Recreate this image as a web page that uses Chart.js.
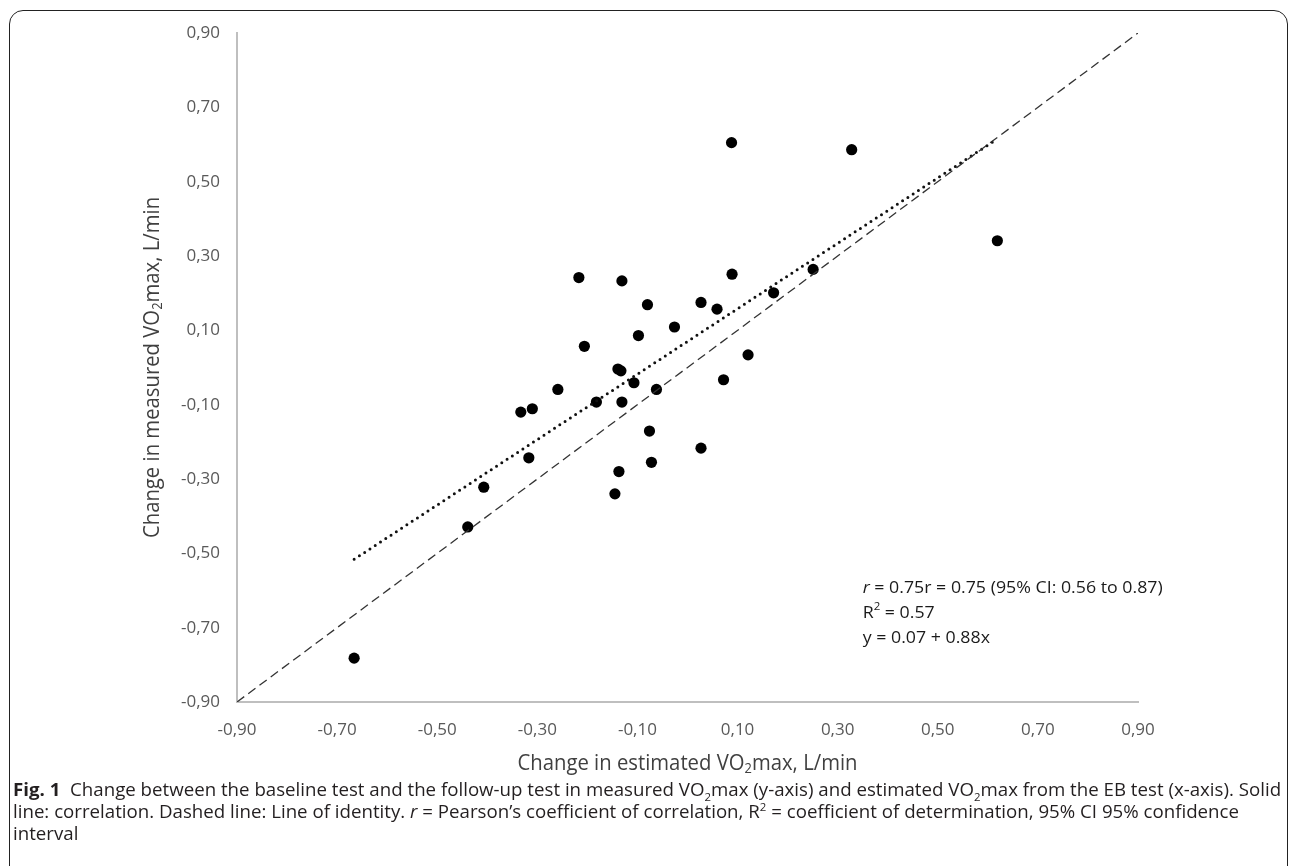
<!DOCTYPE html>
<html>
<head>
<meta charset="utf-8">
<script src="https://cdn.jsdelivr.net/npm/chart.js@4.4.1/dist/chart.umd.min.js"></script>
<style>
  html, body { margin: 0; padding: 0; background: #fff; overflow: hidden; }
  body { width: 1290px; height: 866px; position: relative; }
  #moldura { position: absolute; left: 9px; top: 10px; width: 1279px; height: 920px; border: 1.5px solid #222; border-radius: 14px; box-sizing: border-box; }
  #grafico { position: absolute; left: 0; top: 0; }
  .legenda { position: absolute; left: 13px; font-family: 'Open Sans', sans-serif; font-size: 18px; line-height: 22px; color: #231f20; white-space: nowrap; transform-origin: 0 50%; }
  .legenda sub, .legenda sup { font-size: 11px; line-height: 0; }
</style>
</head>
<body>
<div id="moldura"></div>
<canvas id="grafico" width="1290" height="790"></canvas>
<div class="legenda" id="leg1" style="top:778px"><b>Fig. 1</b>&nbsp; Change between the baseline test and the follow-up test in measured VO<sub>2</sub>max (y-axis) and estimated VO<sub>2</sub>max from the EB test (x-axis). Solid</div>
<div class="legenda" id="leg2" style="top:800px">line: correlation. Dashed line: Line of identity. <i>r</i> = Pearson’s coefficient of correlation, R<sup>2</sup> = coefficient of determination, 95% CI 95% confidence</div>
<div class="legenda" id="leg3" style="top:822px">interval</div>
<script>
// variação estimada (x) e medida (y) do VO2max, L/min
const estChange = [0.088, 0.328, 0.619, -0.217, -0.131, -0.080, 0.027, 0.059, 0.089, 0.172, 0.251, -0.026,
  -0.098, -0.206, 0.121, -0.139, -0.133, -0.107, -0.062, -0.259, 0.072, -0.182, -0.131, -0.333, -0.310,
  -0.076, 0.027, -0.317, -0.072, -0.137, -0.145, -0.407, -0.439, -0.666];
const measChange = [0.605, 0.586, 0.341, 0.242, 0.233, 0.169, 0.175, 0.157, 0.251, 0.201, 0.264, 0.109,
  0.086, 0.057, 0.034, -0.004, -0.009, -0.041, -0.059, -0.059, -0.033, -0.093, -0.093, -0.120, -0.111,
  -0.171, -0.217, -0.243, -0.255, -0.280, -0.340, -0.322, -0.429, -0.782];

// linha de identidade e reta de correlação (y = 0.07 + 0.88x)
const identityX = [-0.9, 0.9];
const identityY = [-0.9, 0.9];
const trendX = [-0.666, 0.619];
const trendY = [-0.516, 0.615];

const tickValues = [-0.9, -0.7, -0.5, -0.3, -0.1, 0.1, 0.3, 0.5, 0.7, 0.9];

const statLines = ['r = 0.75r = 0.75 (95% CI: 0.56 to 0.87)', 'R² = 0.57', 'y = 0.07 + 0.88x'];

const pares = (xs, ys) => xs.map((x, i) => ({ x: x, y: ys[i] }));
const fmt = v => v.toFixed(2).replace('.', ',');

function drawRuns(ctx, runs, sx, align) {
  let total = 0;
  runs.forEach(r => { ctx.font = r.font; r.w = ctx.measureText(r.t).width; total += r.w; });
  ctx.scale(sx, 1);
  let cx = align === 'center' ? -total / 2 : 0;
  ctx.textAlign = 'left';
  ctx.textBaseline = 'middle';
  runs.forEach(r => { ctx.font = r.font; ctx.fillText(r.t, cx, r.dy || 0); cx += r.w; });
  return total;
}
function runsWidth(ctx, runs) {
  let total = 0;
  runs.forEach(r => { ctx.font = r.font; total += ctx.measureText(r.t).width; });
  return total;
}

const textos = {
  id: 'textos',
  afterDraw(chart) {
    const { ctx, chartArea, scales } = chart;
    const tf = "22px 'Open Sans'";
    const tfs = "14px 'Open Sans'";
    const xTitle = [{ t: 'Change in estimated VO', font: tf }, { t: '2', font: tfs, dy: 5 }, { t: 'max, L/min', font: tf }];
    const yTitle = [{ t: 'Change in measured VO', font: tf }, { t: '2', font: tfs, dy: 5 }, { t: 'max, L/min', font: tf }];
    const sxT = 340 / runsWidth(ctx, xTitle);
    ctx.save();
    ctx.fillStyle = '#404040';
    ctx.translate((chartArea.left + chartArea.right) / 2, 764);
    drawRuns(ctx, xTitle, sxT, 'center');
    ctx.restore();
    ctx.save();
    ctx.fillStyle = '#404040';
    ctx.translate(153, (chartArea.top + chartArea.bottom) / 2);
    ctx.rotate(-Math.PI / 2);
    drawRuns(ctx, yTitle, sxT, 'center');
    ctx.restore();

    // estatísticas
    const af = "17px 'Open Sans'";
    const afi = "italic 17px 'Open Sans'";
    const l1 = [{ t: 'r', font: afi }, { t: statLines[0].slice(1), font: af }];
    const l2 = [{ t: 'R', font: af }, { t: '2', font: "11px 'Open Sans'", dy: -6 }, { t: statLines[1].slice(2), font: af }];
    const l3 = [{ t: statLines[2], font: af }];
    const sxA = 300 / runsWidth(ctx, l1);
    const ax = scales.x.getPixelForValue(0.35);
    [[l1, -0.593], [l2, -0.661], [l3, -0.727]].forEach(([runs, yv]) => {
      ctx.save();
      ctx.fillStyle = '#1a1a1a';
      ctx.translate(ax, scales.y.getPixelForValue(yv));
      drawRuns(ctx, runs, sxA, 'left');
      ctx.restore();
    });
  }
};

const eixo = (extra) => Object.assign({
  type: 'linear',
  min: -0.9,
  max: 0.9,
  grid: { display: false, drawTicks: false },
  border: { display: true, color: '#bfbfbf', width: 2 },
  afterBuildTicks: s => { s.ticks = tickValues.map(v => ({ value: v })); }
}, extra);

const tickFont = { family: 'Open Sans', size: 17 };

new Chart(document.getElementById('grafico').getContext('2d'), {
  type: 'scatter',
  data: {
    datasets: [
      {
        label: 'Line of identity',
        data: pares(identityX, identityY),
        showLine: true,
        borderColor: '#333',
        borderWidth: 1.3,
        borderDash: [9, 5],
        pointRadius: 0
      },
      {
        label: 'Correlation',
        data: pares(trendX, trendY),
        showLine: true,
        borderColor: '#111',
        borderWidth: 3,
        borderDash: [0, 6.3],
        borderCapStyle: 'round',
        pointRadius: 0
      },
      {
        label: 'Change in VO2max',
        data: pares(estChange, measChange),
        backgroundColor: '#000',
        borderWidth: 0,
        pointRadius: 5.6
      }
    ]
  },
  options: {
    responsive: false,
    animation: false,
    devicePixelRatio: 1,
    layout: { padding: { left: 0, right: 152, top: 33, bottom: 0 } },
    plugins: { legend: { display: false }, tooltip: { enabled: false } },
    scales: {
      x: eixo({ position: 'bottom', afterFit: s => { s.height = 88; },
        ticks: { color: '#595959', font: tickFont, padding: 18, maxRotation: 0, callback: v => fmt(v) } }),
      y: eixo({ position: 'left', afterFit: s => { s.width = 237; },
        ticks: { color: '#595959', font: tickFont, padding: 17, callback: v => fmt(v) } })
    }
  },
  plugins: [textos]
});

// legenda da figura: comprimir horizontalmente como a fonte condensada original
const leg1 = document.getElementById('leg1');
const sx = 1268 / leg1.scrollWidth;
['leg1', 'leg2', 'leg3'].forEach(id => {
  document.getElementById(id).style.transform = 'scaleX(' + sx + ')';
});
</script>
</body>
</html>
